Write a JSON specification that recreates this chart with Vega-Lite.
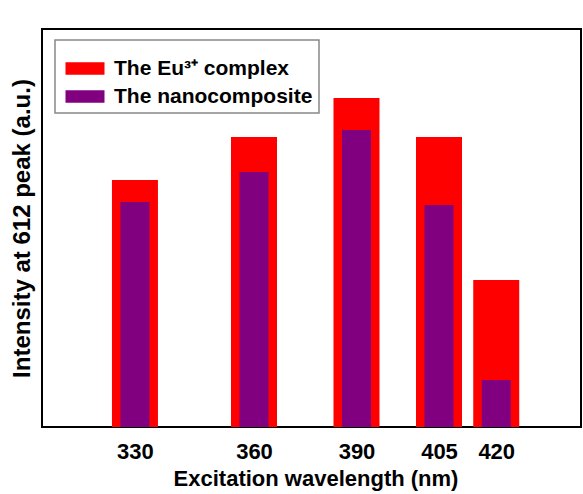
{
  "$schema": "https://vega.github.io/schema/vega-lite/v6.json",
  "width": 539,
  "height": 398,
  "autosize": {"type": "none"},
  "padding": {"left": 42, "top": 29, "right": 2, "bottom": 67},
  "background": "white",
  "config": {
    "view": {"stroke": "#000000", "strokeWidth": 2},
    "font": "Liberation Sans"
  },
  "data": {
    "values": [
      {"wavelength": 330, "series": "The Eu³⁺ complex", "intensity": 247},
      {"wavelength": 360, "series": "The Eu³⁺ complex", "intensity": 290},
      {"wavelength": 390, "series": "The Eu³⁺ complex", "intensity": 329},
      {"wavelength": 405, "series": "The Eu³⁺ complex", "intensity": 290},
      {"wavelength": 420, "series": "The Eu³⁺ complex", "intensity": 147},
      {"wavelength": 330, "series": "The nanocomposite", "intensity": 225},
      {"wavelength": 360, "series": "The nanocomposite", "intensity": 255},
      {"wavelength": 390, "series": "The nanocomposite", "intensity": 297},
      {"wavelength": 405, "series": "The nanocomposite", "intensity": 222},
      {"wavelength": 420, "series": "The nanocomposite", "intensity": 47}
    ]
  },
  "encoding": {
    "x": {
      "field": "wavelength",
      "type": "quantitative",
      "scale": {"domain": [330, 360, 390, 405, 420], "range": [88, 212, 314.5, 397, 459]},
      "axis": {
        "title": "Excitation wavelength (nm)",
        "values": [330, 360, 390, 405, 420],
        "ticks": false,
        "tickSize": 0,
        "domain": false,
        "grid": false,
        "labelFontSize": 22,
        "labelFontWeight": "bold",
        "labelColor": "#000000",
        "labelPadding": 14,
        "labelFlush": false,
        "labelOverlap": false,
        "titleFontSize": 22,
        "titleFontWeight": "bold",
        "titleColor": "#000000",
        "titlePadding": 6
      }
    },
    "y": {
      "field": "intensity",
      "type": "quantitative",
      "scale": {"domain": [0, 398], "nice": false},
      "axis": {
        "title": "Intensity at 612 peak (a.u.)",
        "labels": false,
        "ticks": false,
        "tickSize": 0,
        "domain": false,
        "grid": false,
        "titleFontSize": 24,
        "titleFontWeight": "bold",
        "titleColor": "#000000",
        "titlePadding": 8
      }
    },
    "color": {
      "field": "series",
      "type": "nominal",
      "scale": {"domain": ["The Eu³⁺ complex", "The nanocomposite"], "range": ["#ff0000", "#800080"]},
      "legend": {
        "title": " ",
        "titleFontSize": 6,
        "titlePadding": 6,
        "orient": "none",
        "legendX": 13,
        "legendY": 11,
        "padding": 6,
        "fillColor": "#ffffff",
        "strokeColor": "#888888",
        "symbolType": "M-0.6,-0.62H3.3V0.62H-0.6Z",
        "symbolSize": 400,
        "symbolStrokeWidth": 0,
        "symbolOpacity": 1,
        "labelFontSize": 21,
        "labelFontWeight": "bold",
        "labelColor": "#000000",
        "labelOffset": 32,
        "labelLimit": 400,
        "rowPadding": 6,
        "encode": {"legend": {"update": {"strokeWidth": {"value": 1.5}}}}
      }
    }
  },
  "layer": [
    {
      "transform": [{"filter": "datum.series !== 'The nanocomposite'"}],
      "mark": {"type": "bar", "width": 46}
    },
    {
      "transform": [{"filter": "datum.series === 'The nanocomposite'"}],
      "mark": {"type": "bar", "width": 29}
    }
  ]
}
